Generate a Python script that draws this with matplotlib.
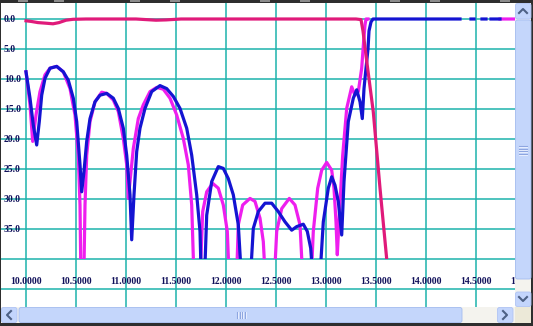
import numpy as np
import matplotlib
matplotlib.use("Agg")
import matplotlib.pyplot as plt
from matplotlib.patches import Rectangle, FancyBboxPatch

nan = np.nan

# ---- data (frequency in GHz, attenuation in dB, plotted downward) ----
blue_f = [10.00, 10.04, 10.073, 10.107, 10.133, 10.157, 10.19, 10.24, 10.307, 10.373, 10.423,
          10.473, 10.507, 10.54, 10.557, 10.58, 10.607, 10.64, 10.69, 10.74, 10.807, 10.873,
          10.923, 10.973, 11.007, 11.04, 11.057, 11.08, 11.107, 11.14, 11.19, 11.257, 11.34,
          11.407, 11.473, 11.54, 11.607, 11.657, 11.707, 11.74, 11.767, 11.807, 11.857, 11.923,
          11.973, 12.023, 12.073, 12.123, 12.20, 12.273, 12.323, 12.39, 12.457, 12.523, 12.59,
          12.657, 12.707, 12.773, 12.813, 12.847, 12.907, 12.973, 13.023, 13.057, 13.09, 13.123,
          13.157, 13.18, 13.223, 13.273, 13.307, 13.34, 13.363, 13.38, 13.40, 13.42, 13.43,
          13.45, 13.47, 14.34, nan, 14.45, 14.48, nan, 14.56, 14.60, nan, 14.65, 14.74]
blue_db = [8.8, 13.2, 17.7, 21.0, 17.1, 12.7, 9.9, 8.2, 7.9, 8.8, 10.2,
           13.2, 17.1, 24.3, 28.8, 25.4, 20.4, 16.6, 13.8, 12.7, 12.4, 13.2,
           14.9, 18.2, 22.7, 29.3, 36.8, 29.3, 22.1, 18.2, 14.9, 12.1, 11.1,
           11.6, 12.9, 14.9, 18.2, 22.7, 29.3, 35.4, 52.0, 32.7, 27.1, 24.6,
           24.9, 26.6, 29.3, 34.3, 56.0, 34.9, 32.1, 30.7, 30.7, 32.1, 33.8,
           35.2, 34.6, 34.2, 35.4, 38.2, 52.0, 33.8, 28.2, 26.3, 27.7, 30.4,
           36.0, 27.1, 17.1, 13.2, 11.8, 13.8, 16.6, 11.6, 8.2, 5.0, 2.0,
           0.5, 0.0, 0.0, nan, 0.0, 0.0, nan, 0.0, 0.0, nan, 0.0, 0.0]

mag_f = [10.00, 10.04, 10.067, 10.10, 10.14, 10.19, 10.24, 10.307, 10.373, 10.44, 10.49,
         10.523, 10.54, 10.562, 10.59, 10.607, 10.64, 10.69, 10.757, 10.807, 10.873, 10.923,
         10.973, 11.007, 11.023, 11.04, 11.073, 11.123, 11.173, 11.24, 11.307, 11.373, 11.44,
         11.507, 11.573, 11.623, 11.657, 11.707, 11.767, 11.807, 11.867, 11.923, 11.973, 12.013,
         12.073, 12.123, 12.167, 12.24, 12.29, 12.34, 12.373, 12.44, 12.507, 12.557, 12.633,
         12.69, 12.74, 12.813, 12.873, 12.917, 12.957, 13.007, 13.057, 13.08, 13.10, 13.113,
         13.133, 13.167, 13.207, 13.257, 13.29, 13.323, 13.357, 13.375, 13.39, 13.40, 13.42,
         nan, 14.74, 14.89]
mag_db = [8.8, 14.3, 20.4, 16.0, 12.1, 9.3, 8.2, 7.9, 8.8, 11.6, 16.0,
          22.7, 31.0, 60.0, 31.0, 22.7, 17.1, 13.8, 12.2, 12.4, 13.5, 15.4,
          19.9, 24.3, 29.9, 27.1, 21.6, 16.6, 14.3, 12.1, 11.4, 11.7, 13.2,
          16.0, 19.9, 24.3, 31.0, 58.0, 32.1, 28.8, 27.4, 28.2, 31.0, 35.4,
          60.0, 34.3, 31.0, 29.9, 30.4, 33.2, 37.1, 58.0, 35.4, 31.6, 29.9,
          31.0, 34.3, 58.0, 35.4, 28.2, 25.2, 23.9, 25.2, 28.2, 33.8, 39.3,
          32.7, 22.7, 14.9, 11.3, 12.7, 12.1, 8.2, 4.0, 1.0, 0.0, 0.0,
          nan, 0.0, 0.0]

s21_f = [10.00, 10.05, 10.12, 10.20, 10.27, 10.33, 10.40, 10.47, 10.60, 11.10, 11.30, 11.40,
         11.55, 13.30, 13.35, 13.37, 13.407, 13.473, 13.54, 13.607, 13.63]
s21_db = [0.3, 0.4, 0.6, 0.7, 0.8, 0.6, 0.2, 0.05, 0.0, 0.0, 0.2, 0.15,
          0.0, 0.0, 0.1, 2.0, 7.0, 15.5, 28.2, 40.0, 44.0]

x_ticks = [10.0, 10.5, 11.0, 11.5, 12.0, 12.5, 13.0, 13.5, 14.0, 14.5, 15.0]
y_ticks = [0, 5, 10, 15, 20, 25, 30, 35, 40, 45]
y_labels = ["0.0", "5.0", "10.0", "15.0", "20.0", "25.0", "30.0", "35.0"]

# ---- colours ----
C_BLUE = "#1414D2"
C_MAG = "#EE1EEE"
C_S21 = "#E01A7A"
C_GRID = "#1DB3AC"
C_TXT = "#10105A"

W, H = 533, 326
fig = plt.figure(figsize=(W / 100, H / 100), dpi=100)
fig.patch.set_facecolor("white")

L, R, T, B = 1, 515, 3, 307
ax = fig.add_axes([L / W, (H - B) / H, (R - L) / W, (B - T) / H])
for s in ax.spines.values():
    s.set_visible(False)
ax.set_xticks(x_ticks)
ax.set_yticks(y_ticks)
ax.set_xlim(10 + (L - 26) / 100, 10 + (R - 26) / 100)
ax.set_ylim((B - 19) / 6, (T - 19) / 6)
ax.tick_params(length=0, labelbottom=False, labelleft=False)
ax.grid(True, color=C_GRID, lw=1.1)
ax.set_axisbelow(True)

clip = Rectangle((9.0, -5), 7.0, 45.0, transform=ax.transData)
for f, d, c in [(mag_f, mag_db, C_MAG), (blue_f, blue_db, C_BLUE), (s21_f, s21_db, C_S21)]:
    ln, = ax.plot(f, d, color=c, lw=2.3, solid_joinstyle="round", zorder=3)
    ln.set_clip_path(clip)

txt_kw = dict(fontsize=7, fontweight="bold", family="Liberation Serif", color=C_TXT, zorder=5)
for v in x_ticks:
    ax.text(v, (281 - 19) / 6, f"{v:.4f}", ha="center", va="center", clip_on=False, **txt_kw)
for i, lab in enumerate(y_labels):
    ax.text(10 + (4 - 26) / 100, y_ticks[i], lab, ha="left", va="center", **txt_kw)

# ---- window chrome overlay (pixel coordinates) ----
ov = fig.add_axes([0, 0, 1, 1], zorder=10)
ov.set_xlim(0, W)
ov.set_ylim(H, 0)
ov.axis("off")
ov.patch.set_alpha(0)

def rect(x0, y0, x1, y1, fc, ec="none", lw=0, r=None):
    if r:
        p = FancyBboxPatch((x0, y0), x1 - x0, y1 - y0, boxstyle=f"round,pad=0,rounding_size={r}",
                           fc=fc, ec=ec, lw=lw)
    else:
        p = Rectangle((x0, y0), x1 - x0, y1 - y0, fc=fc, ec=ec, lw=lw)
    ov.add_patch(p)

# frame
rect(0, 0, W, 3, "#2E2E2E")
for x0 in [18, 54, 130, 170, 260, 300, 390, 430, 500]:
    rect(x0, 0, x0 + 10, 2, "#8C8C8C")
rect(0, 0, 1, H, "#2E2E2E")
rect(531, 0, W, H, "#2E2E2E")
rect(0, 323, W, H, "#2E2E2E")

# horizontal scrollbar
rect(1, 307, 515, 323, "#F4F3EE")
rect(1.5, 307.5, 17, 322.5, "#C3D5FC", "#B0C4F4", 0.6, r=2)
rect(19, 307.5, 462, 322.5, "#C4D6FB", "#A4BCF0", 0.6, r=2)
rect(497.5, 307.5, 513, 322.5, "#C3D5FC", "#B0C4F4", 0.6, r=2)
ov.plot([11, 7, 11], [311, 315, 319], color="#4D6185", lw=1.5)
ov.plot([503, 507, 503], [311, 315, 319], color="#4D6185", lw=1.5)
for gx in [237, 239.5, 242, 244.5]:
    ov.plot([gx, gx], [312, 318], color="#8EA6E0", lw=0.8)
    ov.plot([gx + 1, gx + 1], [312, 318], color="#EEF3FF", lw=0.6)

# vertical scrollbar
rect(515, 3, 531, 307, "#F4F3EE")
rect(515.5, 3.5, 531, 19, "#C3D5FC", "#B0C4F4", 0.6, r=2)
rect(515.5, 20, 531, 279, "#C4D6FB", "#A4BCF0", 0.6, r=2)
rect(515.5, 292, 531, 306.5, "#C3D5FC", "#B0C4F4", 0.6, r=2)
ov.plot([519, 523, 527], [13, 9, 13], color="#4D6185", lw=1.5)
ov.plot([519, 523, 527], [297, 301, 297], color="#4D6185", lw=1.5)
for gy in [146, 148.5, 151, 153.5]:
    ov.plot([519, 527], [gy, gy], color="#8EA6E0", lw=0.8)
    ov.plot([519, 527], [gy + 1, gy + 1], color="#EEF3FF", lw=0.6)

# corner
rect(515, 307, 531, 323, "#ECE9D8")

fig.savefig("out.png", dpi=100)
